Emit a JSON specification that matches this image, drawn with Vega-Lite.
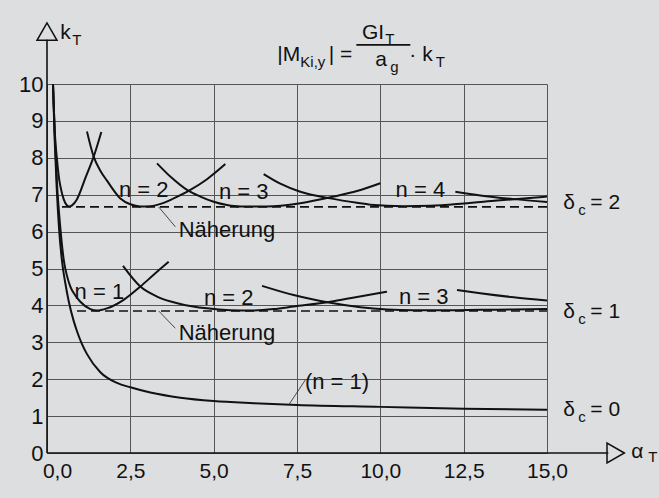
{
  "$schema": "https://vega.github.io/schema/vega-lite/v6.json",
  "width": 500,
  "height": 369,
  "autosize": {"type": "none"},
  "padding": {"left": 47, "top": 84, "right": 112, "bottom": 45},
  "background": "#dddee0",
  "config": {"view": {"stroke": null}, "font": "Liberation Sans", "axis": {"labelOverlap": false}},
  "datasets": {
    "curves": [
      {"curve": "c0", "x": 0.18, "y": 10}, {"curve": "c0", "x": 0.23, "y": 8.5}, {"curve": "c0", "x": 0.29, "y": 7.2}, {"curve": "c0", "x": 0.36, "y": 6.1}, {"curve": "c0", "x": 0.45, "y": 5.2}, {"curve": "c0", "x": 0.55, "y": 4.6}, {"curve": "c0", "x": 0.65, "y": 4.12}, {"curve": "c0", "x": 0.8, "y": 3.58}, {"curve": "c0", "x": 0.9, "y": 3.3}, {"curve": "c0", "x": 1.05, "y": 2.95}, {"curve": "c0", "x": 1.2, "y": 2.68}, {"curve": "c0", "x": 1.6, "y": 2.19}, {"curve": "c0", "x": 2.1, "y": 1.9}, {"curve": "c0", "x": 2.5, "y": 1.78}, {"curve": "c0", "x": 3.1, "y": 1.64}, {"curve": "c0", "x": 4.0, "y": 1.5}, {"curve": "c0", "x": 5.0, "y": 1.41}, {"curve": "c0", "x": 6.2, "y": 1.35}, {"curve": "c0", "x": 7.5, "y": 1.3}, {"curve": "c0", "x": 10.0, "y": 1.25}, {"curve": "c0", "x": 12.5, "y": 1.2}, {"curve": "c0", "x": 15.0, "y": 1.17},
      {"curve": "c1n1", "x": 0.18, "y": 10}, {"curve": "c1n1", "x": 0.23, "y": 8.7}, {"curve": "c1n1", "x": 0.3, "y": 7.3}, {"curve": "c1n1", "x": 0.4, "y": 6.1}, {"curve": "c1n1", "x": 0.5, "y": 5.25}, {"curve": "c1n1", "x": 0.6, "y": 4.8}, {"curve": "c1n1", "x": 0.7, "y": 4.51}, {"curve": "c1n1", "x": 0.85, "y": 4.27}, {"curve": "c1n1", "x": 1.0, "y": 4.1}, {"curve": "c1n1", "x": 1.3, "y": 3.9}, {"curve": "c1n1", "x": 1.5, "y": 3.86}, {"curve": "c1n1", "x": 1.8, "y": 3.92}, {"curve": "c1n1", "x": 2.3, "y": 4.15}, {"curve": "c1n1", "x": 2.8, "y": 4.51}, {"curve": "c1n1", "x": 3.2, "y": 4.83}, {"curve": "c1n1", "x": 3.65, "y": 5.18},
      {"curve": "c1n2", "x": 2.28, "y": 5.07}, {"curve": "c1n2", "x": 2.8, "y": 4.51}, {"curve": "c1n2", "x": 3.3, "y": 4.24}, {"curve": "c1n2", "x": 4.0, "y": 4.04}, {"curve": "c1n2", "x": 4.8, "y": 3.92}, {"curve": "c1n2", "x": 5.5, "y": 3.87}, {"curve": "c1n2", "x": 6.1, "y": 3.86}, {"curve": "c1n2", "x": 6.8, "y": 3.9}, {"curve": "c1n2", "x": 7.4, "y": 3.97}, {"curve": "c1n2", "x": 8.5, "y": 4.1}, {"curve": "c1n2", "x": 9.3, "y": 4.23}, {"curve": "c1n2", "x": 10.2, "y": 4.37},
      {"curve": "c1n3", "x": 6.45, "y": 4.53}, {"curve": "c1n3", "x": 7.4, "y": 4.28}, {"curve": "c1n3", "x": 8.5, "y": 4.07}, {"curve": "c1n3", "x": 9.4, "y": 3.95}, {"curve": "c1n3", "x": 10.2, "y": 3.89}, {"curve": "c1n3", "x": 11.0, "y": 3.87}, {"curve": "c1n3", "x": 12.0, "y": 3.87}, {"curve": "c1n3", "x": 13.0, "y": 3.88}, {"curve": "c1n3", "x": 14.0, "y": 3.89}, {"curve": "c1n3", "x": 15.0, "y": 3.9},
      {"curve": "c1n4", "x": 12.3, "y": 4.42}, {"curve": "c1n4", "x": 13.0, "y": 4.33}, {"curve": "c1n4", "x": 14.0, "y": 4.22}, {"curve": "c1n4", "x": 15.0, "y": 4.13},
      {"curve": "c2n1", "x": 0.18, "y": 10}, {"curve": "c2n1", "x": 0.24, "y": 8.6}, {"curve": "c2n1", "x": 0.3, "y": 7.95}, {"curve": "c2n1", "x": 0.36, "y": 7.45}, {"curve": "c2n1", "x": 0.42, "y": 7.15}, {"curve": "c2n1", "x": 0.5, "y": 6.88}, {"curve": "c2n1", "x": 0.58, "y": 6.73}, {"curve": "c2n1", "x": 0.66, "y": 6.68}, {"curve": "c2n1", "x": 0.75, "y": 6.71}, {"curve": "c2n1", "x": 0.9, "y": 6.88}, {"curve": "c2n1", "x": 1.15, "y": 7.45}, {"curve": "c2n1", "x": 1.4, "y": 8.03}, {"curve": "c2n1", "x": 1.63, "y": 8.7},
      {"curve": "c2n2", "x": 1.2, "y": 8.71}, {"curve": "c2n2", "x": 1.4, "y": 8.03}, {"curve": "c2n2", "x": 1.6, "y": 7.65}, {"curve": "c2n2", "x": 1.8, "y": 7.38}, {"curve": "c2n2", "x": 2.2, "y": 6.9}, {"curve": "c2n2", "x": 2.5, "y": 6.74}, {"curve": "c2n2", "x": 2.8, "y": 6.68}, {"curve": "c2n2", "x": 3.1, "y": 6.69}, {"curve": "c2n2", "x": 3.5, "y": 6.78}, {"curve": "c2n2", "x": 3.8, "y": 6.9}, {"curve": "c2n2", "x": 4.3, "y": 7.13}, {"curve": "c2n2", "x": 4.8, "y": 7.42}, {"curve": "c2n2", "x": 5.35, "y": 7.83},
      {"curve": "c2n3", "x": 3.3, "y": 7.85}, {"curve": "c2n3", "x": 3.75, "y": 7.45}, {"curve": "c2n3", "x": 4.2, "y": 7.13}, {"curve": "c2n3", "x": 4.6, "y": 6.95}, {"curve": "c2n3", "x": 5.0, "y": 6.81}, {"curve": "c2n3", "x": 5.4, "y": 6.72}, {"curve": "c2n3", "x": 5.8, "y": 6.68}, {"curve": "c2n3", "x": 6.6, "y": 6.68}, {"curve": "c2n3", "x": 7.6, "y": 6.77}, {"curve": "c2n3", "x": 8.6, "y": 6.95}, {"curve": "c2n3", "x": 9.3, "y": 7.1}, {"curve": "c2n3", "x": 10.0, "y": 7.31},
      {"curve": "c2n4", "x": 6.5, "y": 7.56}, {"curve": "c2n4", "x": 7.0, "y": 7.3}, {"curve": "c2n4", "x": 7.6, "y": 7.08}, {"curve": "c2n4", "x": 8.5, "y": 6.9}, {"curve": "c2n4", "x": 9.3, "y": 6.78}, {"curve": "c2n4", "x": 9.7, "y": 6.73}, {"curve": "c2n4", "x": 10.7, "y": 6.69}, {"curve": "c2n4", "x": 11.5, "y": 6.7}, {"curve": "c2n4", "x": 12.5, "y": 6.76}, {"curve": "c2n4", "x": 13.5, "y": 6.84}, {"curve": "c2n4", "x": 15.0, "y": 6.95},
      {"curve": "c2n5", "x": 12.25, "y": 7.08}, {"curve": "c2n5", "x": 13.0, "y": 6.98}, {"curve": "c2n5", "x": 14.0, "y": 6.88}, {"curve": "c2n5", "x": 15.0, "y": 6.8}
    ],
    "approx": [
      {"curve": "a2", "x": 0.45, "y": 6.67}, {"curve": "a2", "x": 15, "y": 6.67},
      {"curve": "a1", "x": 0.9, "y": 3.85}, {"curve": "a1", "x": 15, "y": 3.85}
    ],
    "lines": [
      {"x": 0, "y": 0, "x2": 0, "y2": 11.2},
      {"x": 0, "y": 0, "x2": 16.84, "y2": 0},
      {"x": 9.28, "y": 11.06, "x2": 10.9, "y2": 11.06}
    ],
    "leaders": [
      {"x": 3.35, "y": 6.67, "x2": 3.85, "y2": 6.13},
      {"x": 3.35, "y": 3.85, "x2": 3.85, "y2": 3.38},
      {"x": 7.25, "y": 1.3, "x2": 7.75, "y2": 1.98}
    ],
    "arrows": [
      {"x": 0, "y": 11.42, "shape": "triangle-up"},
      {"x": 17.06, "y": 0, "shape": "triangle-right"}
    ],
    "clabels": [
      {"x": 2.9, "y": 7.13, "text": "n = 2"},
      {"x": 5.9, "y": 7.08, "text": "n = 3"},
      {"x": 11.2, "y": 7.13, "text": "n = 4"},
      {"x": 5.4, "y": 6.04, "text": "Näherung"},
      {"x": 1.57, "y": 4.37, "text": "n = 1"},
      {"x": 5.45, "y": 4.19, "text": "n = 2"},
      {"x": 11.3, "y": 4.24, "text": "n = 3"},
      {"x": 5.4, "y": 3.24, "text": "Näherung"},
      {"x": 8.7, "y": 1.93, "text": "(n = 1)"}
    ],
    "ltext": [
      {"x": 6.91, "y": 10.79, "text": "|M"},
      {"x": 8.45, "y": 10.79, "text": "| ="},
      {"x": 9.45, "y": 11.38, "text": "GI"},
      {"x": 9.85, "y": 10.65, "text": "a"},
      {"x": 10.87, "y": 10.79, "text": "· k"},
      {"x": 0.4, "y": 11.38, "text": "k"},
      {"x": 17.53, "y": 0.03, "text": "α"},
      {"x": 15.49, "y": 6.77, "text": "δ"},
      {"x": 16.3, "y": 6.77, "text": "= 2"},
      {"x": 15.49, "y": 3.83, "text": "δ"},
      {"x": 16.3, "y": 3.83, "text": "= 1"},
      {"x": 15.49, "y": 1.17, "text": "δ"},
      {"x": 16.3, "y": 1.17, "text": "= 0"}
    ],
    "subs": [
      {"x": 7.6, "y": 10.6, "text": "Ki,y"},
      {"x": 10.15, "y": 11.22, "text": "T"},
      {"x": 10.3, "y": 10.46, "text": "g"},
      {"x": 11.66, "y": 10.6, "text": "T"},
      {"x": 0.76, "y": 11.19, "text": "T"},
      {"x": 18.04, "y": -0.1, "text": "T"},
      {"x": 15.94, "y": 6.58, "text": "c"},
      {"x": 15.94, "y": 3.64, "text": "c"},
      {"x": 15.94, "y": 0.98, "text": "c"}
    ]
  },
  "encoding": {
    "x": {
      "field": "x", "type": "quantitative",
      "scale": {"domain": [0, 15], "nice": false, "zero": false},
      "axis": {
        "values": [0, 2.5, 5, 7.5, 10, 12.5, 15], "title": null, "domain": false, "ticks": false,
        "grid": true, "gridColor": "#555555", "gridWidth": 1,
        "labelFontSize": 21, "labelColor": "#111111", "labelPadding": 7, "labelFlush": false,
        "labelOverlap": false, "labelFont": "Liberation Sans",
        "labelExpr": "replace(format(datum.value, '.1f'), '.', ',')",
        "labelOffset": {"condition": {"test": "datum.value == 0", "value": 10}, "value": 0}
      }
    },
    "y": {
      "field": "y", "type": "quantitative",
      "scale": {"domain": [0, 10], "nice": false},
      "axis": {
        "values": [0, 1, 2, 3, 4, 5, 6, 7, 8, 9, 10], "title": null, "domain": false, "ticks": false,
        "grid": true, "gridColor": "#555555", "gridWidth": 1, "labelOverlap": false,
        "labelFontSize": 22, "labelColor": "#111111", "labelPadding": 4, "labelFont": "Liberation Sans"
      }
    }
  },
  "layer": [
    {
      "data": {"name": "curves"},
      "mark": {"type": "line", "interpolate": "monotone", "color": "#111111", "strokeWidth": 2},
      "encoding": {"detail": {"field": "curve"}}
    },
    {
      "data": {"name": "approx"},
      "mark": {"type": "line", "color": "#111111", "strokeWidth": 1.6, "strokeDash": [9, 5]},
      "encoding": {"detail": {"field": "curve"}}
    },
    {
      "data": {"name": "lines"},
      "mark": {"type": "rule", "color": "#111111", "strokeWidth": 1.6},
      "encoding": {"x2": {"field": "x2"}, "y2": {"field": "y2"}}
    },
    {
      "data": {"name": "leaders"},
      "mark": {"type": "rule", "color": "#222222", "strokeWidth": 0.8},
      "encoding": {"x2": {"field": "x2"}, "y2": {"field": "y2"}}
    },
    {
      "data": {"name": "arrows"},
      "mark": {"type": "point", "filled": false, "size": 400, "strokeWidth": 1.5, "color": "#111111", "opacity": 1},
      "encoding": {"shape": {"field": "shape", "type": "nominal", "scale": null}}
    },
    {
      "data": {"name": "clabels"},
      "mark": {"type": "text", "align": "center", "baseline": "middle", "fontSize": 22, "color": "#111111", "font": "Liberation Sans"},
      "encoding": {"text": {"field": "text"}}
    },
    {
      "data": {"name": "ltext"},
      "mark": {"type": "text", "align": "left", "baseline": "middle", "fontSize": 21, "color": "#111111", "font": "Liberation Sans"},
      "encoding": {"text": {"field": "text"}}
    },
    {
      "data": {"name": "subs"},
      "mark": {"type": "text", "align": "left", "baseline": "middle", "fontSize": 15, "color": "#111111", "font": "Liberation Sans"},
      "encoding": {"text": {"field": "text"}}
    }
  ]
}
